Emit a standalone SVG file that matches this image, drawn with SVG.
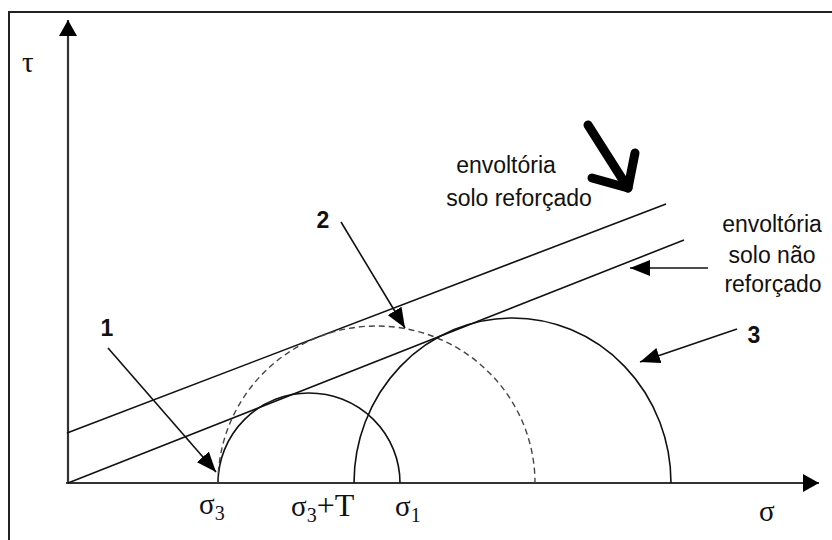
<svg xmlns="http://www.w3.org/2000/svg" width="832" height="540" viewBox="0 0 832 540">
<style>
.ln{fill:none;stroke:#111;stroke-width:1.6}
.ax{fill:none;stroke:#333;stroke-width:2.2}
.dash{fill:none;stroke:#444;stroke-width:1.4;stroke-dasharray:6 4}
.lbl{font-family:"Liberation Sans",Arial,sans-serif;font-size:23px;fill:#111}
.num{font-family:"Liberation Sans",Arial,sans-serif;font-size:23px;font-weight:bold;fill:#111}
.gr{font-family:"Liberation Serif","Times New Roman",serif;font-size:29px;fill:#111}
.sub{font-size:20px}
.big{font-size:32px}
</style>
<defs>
<marker id="ah" markerUnits="userSpaceOnUse" markerWidth="22" markerHeight="16" refX="20" refY="8" orient="auto">
<path d="M0,0 L20,8 L0,16 Z" fill="#000"/>
</marker>
<marker id="axh" markerUnits="userSpaceOnUse" markerWidth="18" markerHeight="18" refX="16" refY="9" orient="auto">
<path d="M0,0 L16,9 L0,18 Z" fill="#000"/>
</marker>
</defs>
<rect width="832" height="540" fill="#fff"/>
<path d="M9,545 L9,12 L840,12" fill="none" stroke="#222" stroke-width="2"/>
<g id="axes">
<line class="ax" x1="68" y1="484" x2="68" y2="20" marker-end="url(#axh)"/>
<line class="ax" x1="66" y1="483" x2="819" y2="483" marker-end="url(#axh)"/>
<text class="gr" x="22" y="72">τ</text>
<text class="gr" x="759" y="521">σ</text>
</g>
<g id="envelopes">
<line class="ln" x1="67" y1="433" x2="666" y2="204"/>
<line class="ln" x1="68" y1="483" x2="684" y2="240"/>
</g>
<g id="circle-small">
<path class="ln" d="M218,483 A91,90 0 0 1 400,483"/>
</g>
<g id="circle-dashed">
<path class="dash" d="M218,483 A158.5,157 0 0 1 535,483"/>
</g>
<g id="circle-big">
<path class="ln" d="M354,483 A158.5,165 0 0 1 671,483"/>
</g>
<g id="labels">
<text class="gr" x="199" y="514">σ<tspan class="sub" dy="6">3</tspan></text>
<text class="gr" x="291" y="516">σ<tspan class="sub" dy="6">3</tspan><tspan class="big" dy="-6">+T</tspan></text>
<text class="gr" x="395" y="516">σ<tspan class="sub" dy="6">1</tspan></text>
<text class="lbl" x="506" y="173" text-anchor="middle">envoltória</text>
<text class="lbl" x="519" y="206" text-anchor="middle">solo reforçado</text>
<text class="lbl" x="772" y="232" text-anchor="middle">envoltória</text>
<text class="lbl" x="772" y="263" text-anchor="middle">solo não</text>
<text class="lbl" x="773" y="292" text-anchor="middle">reforçado</text>
<text class="num" x="107" y="336" text-anchor="middle">1</text>
<text class="num" x="323" y="228" text-anchor="middle">2</text>
<text class="num" x="754" y="343" text-anchor="middle">3</text>
</g>
<g id="connectors">
<line class="ln" x1="108" y1="348" x2="216" y2="472" marker-end="url(#ah)"/>
<line class="ln" x1="341" y1="222" x2="405" y2="328" marker-end="url(#ah)"/>
<line class="ln" x1="737" y1="329" x2="640" y2="362" marker-end="url(#ah)"/>
<line class="ln" x1="708" y1="268" x2="630" y2="268" marker-end="url(#ah)"/>
<polyline points="588,125 628,188" fill="none" stroke="#000" stroke-width="9" stroke-linecap="round"/>
<polyline points="592,178 628,188 635,153" fill="none" stroke="#000" stroke-width="9" stroke-linecap="round" stroke-linejoin="round"/>
</g>
</svg>
